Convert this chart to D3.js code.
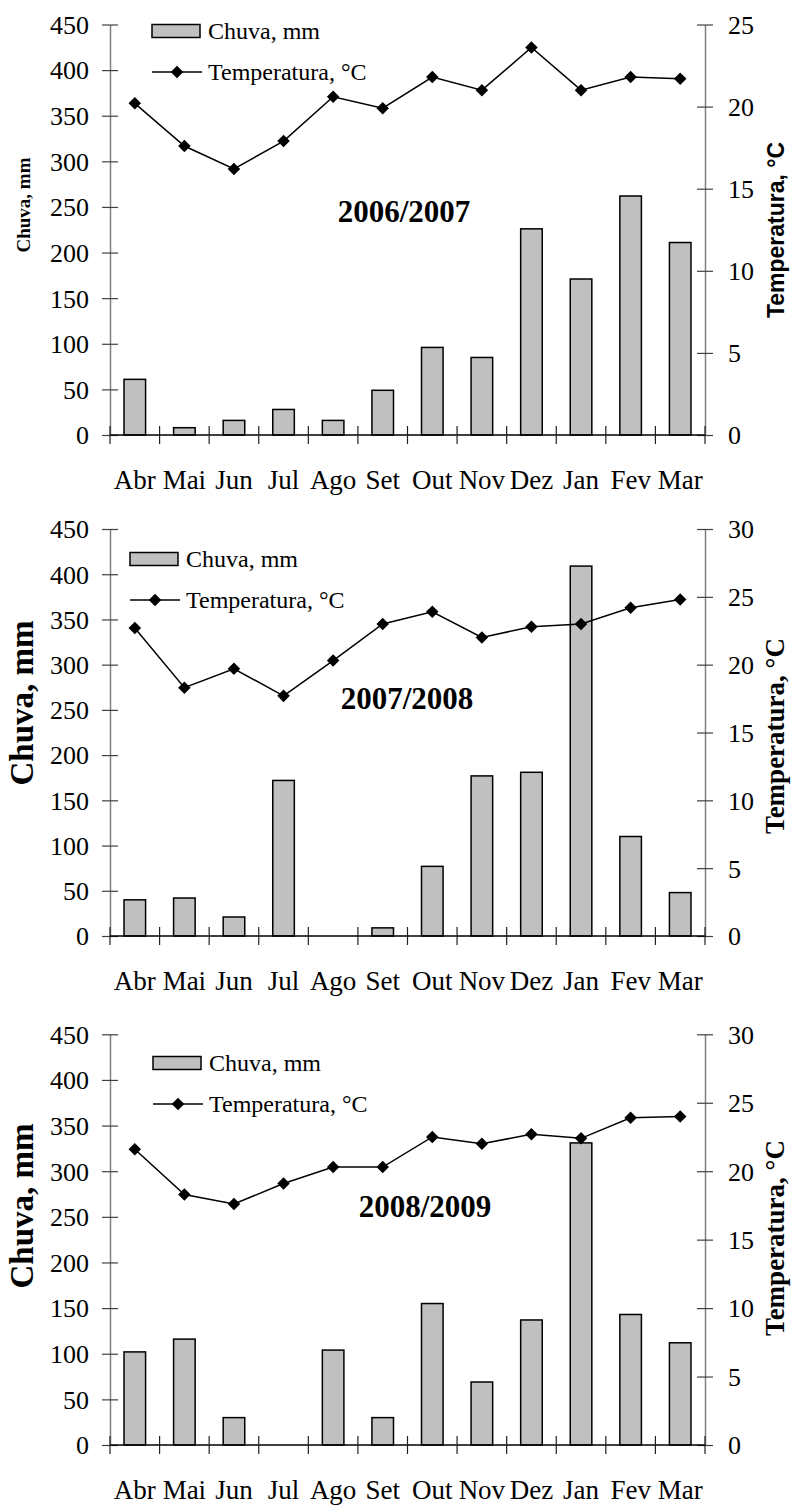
<!DOCTYPE html>
<html>
<head>
<meta charset="utf-8">
<script src="https://cdnjs.cloudflare.com/ajax/libs/d3/7.8.5/d3.min.js"></script>
<style>
  body { margin: 0; background: #fff; }
  svg { display: block; }
  text { fill: #000; }
</style>
</head>
<body>
<div id="vis"></div>
<script>
// months of the agricultural year
var months = ['Abr','Mai','Jun','Jul','Ago','Set','Out','Nov','Dez','Jan','Fev','Mar'];

// rainfall (mm) per season
var rain0607 = [61, 8, 16, 28, 16, 49, 96, 85, 226, 171, 262, 211];
var rain0708 = [40, 42, 21, 172, 0, 9, 77, 177, 181, 409, 110, 48];
var rain0809 = [102, 116, 30, 0, 104, 30, 155, 69, 137, 331, 143, 112];

// mean temperature (°C) per season
var temp0607 = [20.2, 17.6, 16.2, 17.9, 20.6, 19.9, 21.8, 21.0, 23.6, 21.0, 21.8, 21.7];
var temp0708 = [22.7, 18.3, 19.7, 17.7, 20.3, 23.0, 23.9, 22.0, 22.8, 23.0, 24.2, 24.8];
var temp0809 = [21.6, 18.3, 17.6, 19.1, 20.3, 20.3, 22.5, 22.0, 22.7, 22.4, 23.9, 24.0];

var seasons = ['2006/2007', '2007/2008', '2008/2009'];
var rainTicks = [0, 50, 100, 150, 200, 250, 300, 350, 400, 450];
var tempTicks25 = [0, 5, 10, 15, 20, 25];
var tempTicks30 = [0, 5, 10, 15, 20, 25, 30];

var rainLabel = 'Chuva, mm';
var tempLabel = 'Temperatura, °C';

var W = 794, H = 1505;
var serif = '"Liberation Serif", "Times New Roman", serif';
var sans = '"Liberation Sans", Arial, sans-serif';

var svg = d3.select('#vis').append('svg')
    .attr('width', W)
    .attr('height', H);

// layout of each panel (pixel positions only)
var panels = [
  {rain: rain0607, temp: temp0607, title: seasons[0], tTicks: tempTicks25,
   top: 24.5, bottom: 435, legX: 152, legY: 31, titleX: 404, titleY: 222,
   leftLab: {x: 30, y: 205, size: 19, font: serif}, rightLab: {x: 784, y: 230, size: 23, font: sans}},
  {rain: rain0708, temp: temp0708, title: seasons[1], tTicks: tempTicks30,
   top: 529, bottom: 936, legX: 130, legY: 559, titleX: 407, titleY: 709,
   leftLab: {x: 33, y: 703, size: 33, font: serif}, rightLab: {x: 784, y: 736, size: 27, font: serif}},
  {rain: rain0809, temp: temp0809, title: seasons[2], tTicks: tempTicks30,
   top: 1034.3, bottom: 1445, legX: 153, legY: 1063, titleX: 425, titleY: 1217,
   leftLab: {x: 33, y: 1206, size: 33, font: serif}, rightLab: {x: 784, y: 1238, size: 27, font: serif}}
];

var left = 110, right = 705;

var x = d3.scaleBand().domain(months).range([left, right]).paddingInner(0.565).paddingOuter(0.2825);
var xc = d3.scaleBand().domain(months).range([left, right]);

panels.forEach(function(p) {
  var g = svg.append('g');

  var yRain = d3.scaleLinear().domain([0, 450]).range([p.bottom, p.top]);
  var tMax = d3.max(p.tTicks);
  var yTemp = d3.scaleLinear().domain([0, tMax]).range([p.bottom, p.top]);

  // bars
  g.selectAll('rect.bar')
    .data(p.rain.map(function(v, i) { return {m: months[i], v: v}; }).filter(function(d) { return d.v > 0; }))
    .enter().append('rect')
    .attr('class', 'bar')
    .attr('x', function(d) { return x(d.m); })
    .attr('width', x.bandwidth())
    .attr('y', function(d) { return yRain(d.v); })
    .attr('height', function(d) { return yRain(0) - yRain(d.v); })
    .attr('fill', '#c0c0c0')
    .attr('stroke', '#000')
    .attr('stroke-width', 1.5);

  // left axis
  var la = g.append('g').attr('transform', 'translate(' + left + ',0)')
    .call(d3.axisLeft(yRain).tickValues(rainTicks).tickSizeInner(8).tickSizeOuter(0).tickPadding(13));
  la.select('.domain').attr('stroke', '#808080').attr('stroke-width', 1.5);
  la.selectAll('.tick line').attr('stroke', '#404040').attr('stroke-width', 1.2).attr('x2', 8).attr('x1', -8);
  la.selectAll('.tick text').attr('font-family', serif).attr('font-size', 26).attr('dy', '0.34em');

  // right axis
  var ra = g.append('g').attr('transform', 'translate(' + right + ',0)')
    .call(d3.axisRight(yTemp).tickValues(p.tTicks).tickSizeInner(8).tickSizeOuter(0).tickPadding(15));
  ra.select('.domain').attr('stroke', '#808080').attr('stroke-width', 1.5);
  ra.selectAll('.tick line').attr('stroke', '#404040').attr('stroke-width', 1.2).attr('x1', -8).attr('x2', 8);
  ra.selectAll('.tick text').attr('font-family', serif).attr('font-size', 26).attr('dy', '0.34em');

  // x axis: category boundary ticks
  var bounds = months.map(function(m) { return xc(m); }).concat([right]);
  g.append('line')
    .attr('x1', left).attr('x2', right)
    .attr('y1', yRain(0)).attr('y2', yRain(0))
    .attr('stroke', '#000').attr('stroke-width', 1.5);
  g.selectAll('line.xt').data(bounds).enter().append('line')
    .attr('class', 'xt')
    .attr('x1', function(d) { return d; }).attr('x2', function(d) { return d; })
    .attr('y1', yRain(0) - 9).attr('y2', yRain(0) + 9)
    .attr('stroke', '#202020').attr('stroke-width', 1.2);
  g.selectAll('text.xl').data(months).enter().append('text')
    .attr('class', 'xl')
    .attr('x', function(d) { return xc(d) + xc.bandwidth() / 2; })
    .attr('y', yRain(0) + 54)
    .attr('text-anchor', 'middle')
    .attr('font-family', serif).attr('font-size', 27)
    .text(function(d) { return d; });

  // temperature line
  var line = d3.line()
    .x(function(d, i) { return xc(months[i]) + xc.bandwidth() / 2; })
    .y(function(d) { return yTemp(d); });
  g.append('path').datum(p.temp)
    .attr('d', line)
    .attr('fill', 'none').attr('stroke', '#000').attr('stroke-width', 1.5);
  var diamond = d3.symbol().type(d3.symbolDiamond2).size(100);
  g.selectAll('path.mk').data(p.temp).enter().append('path')
    .attr('class', 'mk')
    .attr('transform', function(d, i) { return 'translate(' + (xc(months[i]) + xc.bandwidth() / 2) + ',' + yTemp(d) + ')'; })
    .attr('d', diamond)
    .attr('fill', '#000');

  // legend
  g.append('rect')
    .attr('x', p.legX).attr('y', p.legY - 6.5)
    .attr('width', 48).attr('height', 13)
    .attr('fill', '#c0c0c0').attr('stroke', '#000').attr('stroke-width', 1.5);
  g.append('text')
    .attr('x', p.legX + 56).attr('y', p.legY + 8)
    .attr('font-family', serif).attr('font-size', 24)
    .text(rainLabel);
  g.append('line')
    .attr('x1', p.legX).attr('x2', p.legX + 50)
    .attr('y1', p.legY + 41).attr('y2', p.legY + 41)
    .attr('stroke', '#000').attr('stroke-width', 1.5);
  g.append('path')
    .attr('transform', 'translate(' + (p.legX + 25) + ',' + (p.legY + 41) + ')')
    .attr('d', diamond).attr('fill', '#000');
  g.append('text')
    .attr('x', p.legX + 56).attr('y', p.legY + 49)
    .attr('font-family', serif).attr('font-size', 24)
    .text(tempLabel);

  // season title
  g.append('text')
    .attr('x', p.titleX).attr('y', p.titleY)
    .attr('text-anchor', 'middle')
    .attr('font-family', serif).attr('font-size', 31).attr('font-weight', 'bold')
    .text(p.title);

  // axis titles
  g.append('text')
    .attr('transform', 'translate(' + p.leftLab.x + ',' + p.leftLab.y + ') rotate(-90)')
    .attr('text-anchor', 'middle')
    .attr('font-family', p.leftLab.font).attr('font-size', p.leftLab.size).attr('font-weight', 'bold')
    .text(rainLabel);
  g.append('text')
    .attr('transform', 'translate(' + p.rightLab.x + ',' + p.rightLab.y + ') rotate(-90)')
    .attr('text-anchor', 'middle')
    .attr('font-family', p.rightLab.font).attr('font-size', p.rightLab.size).attr('font-weight', 'bold')
    .text(tempLabel);
});
</script>
</body>
</html>
